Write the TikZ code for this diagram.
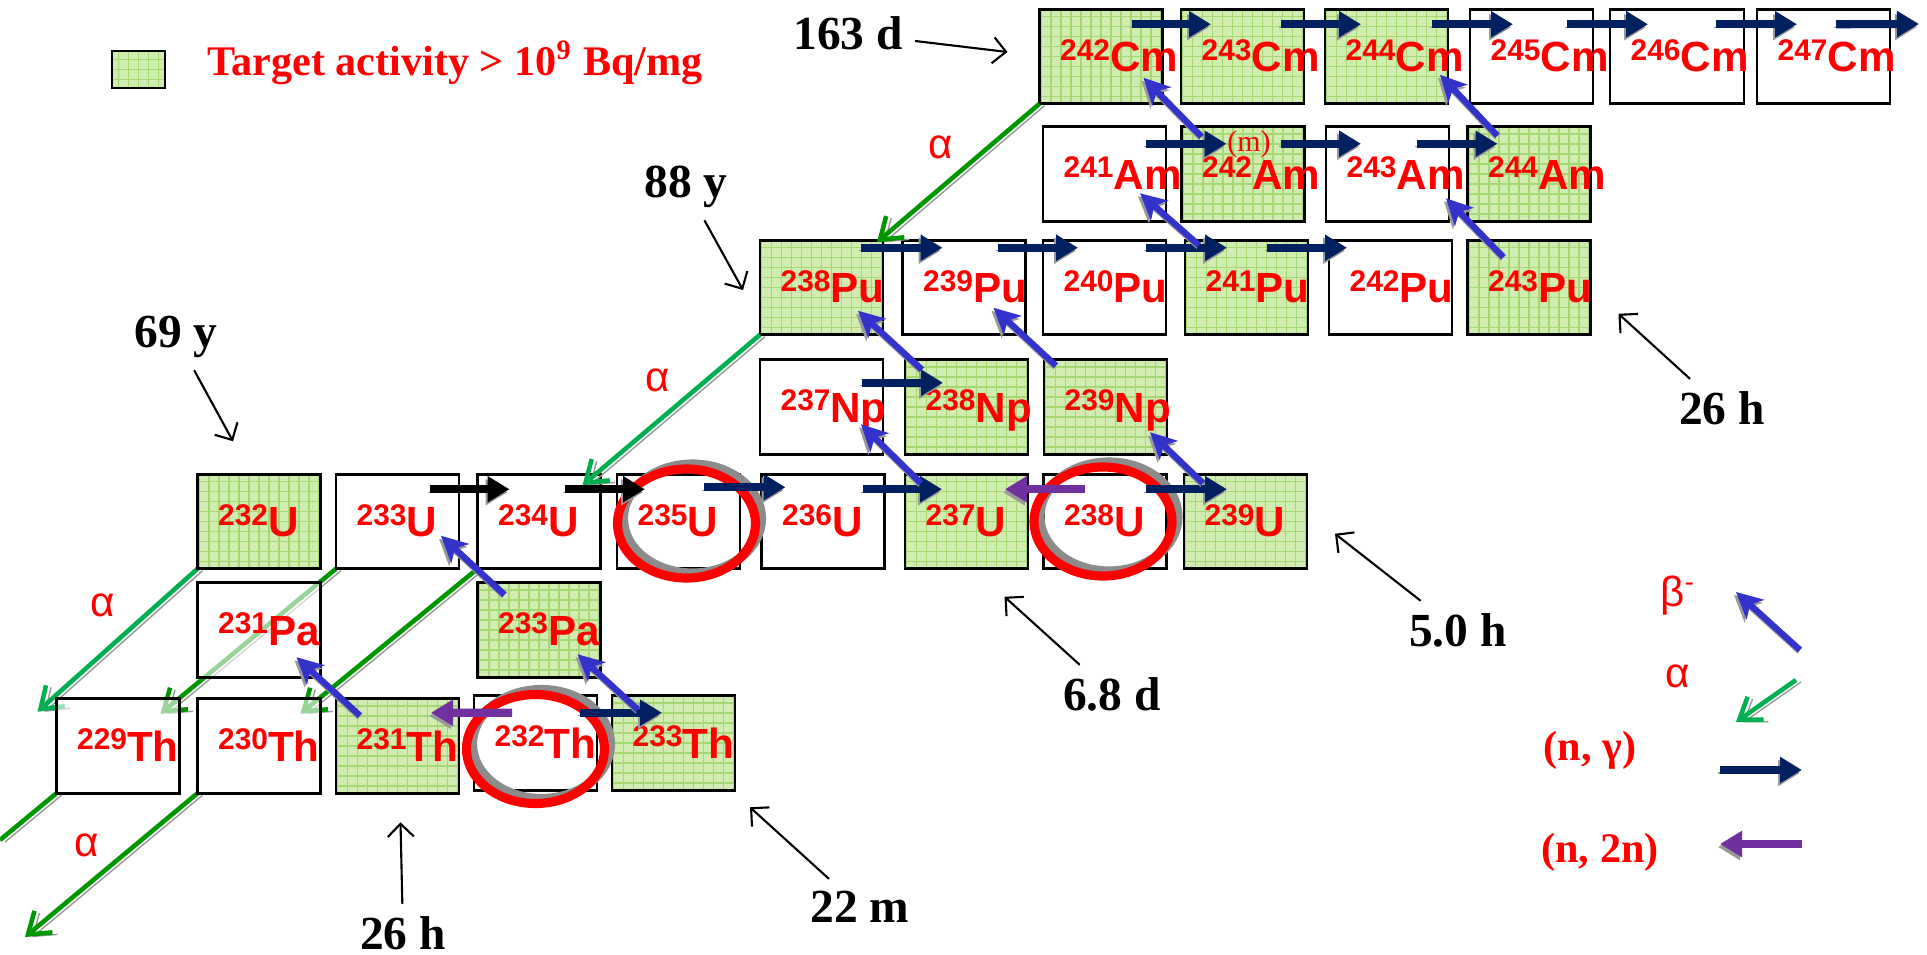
\documentclass[tikz,border=0pt]{standalone}
\usepackage{fontspec}
\setmainfont{Liberation Serif}
\setsansfont{Liberation Sans}
\usetikzlibrary{arrows.meta,calc,backgrounds}
\definecolor{navy}{RGB}{0,32,96}
\definecolor{betablue}{RGB}{51,51,204}
\definecolor{grape}{RGB}{112,48,160}
\definecolor{leaf}{RGB}{0,176,80}
\definecolor{moss}{RGB}{0,150,0}
\definecolor{mint}{RGB}{208,236,176}
\definecolor{mintline}{RGB}{165,215,115}
\definecolor{scarlet}{RGB}{255,0,0}
\newcommand\mass[1]{\raisebox{3.3pt}{\fontsize{8.5}{8.5}\selectfont #1}}
\tikzset{
  box/.style={draw=black,line width=0.8pt,minimum width=1.23cm,minimum height=0.945cm,
    inner sep=0pt,outer sep=0pt},
  wbox/.style={box,fill=white,fill opacity=0.6},
  gbox/.style={box,fill=mint,path picture={
    \draw[mintline,line width=0.4pt] (path picture bounding box.south west)
      grid[step=0.1] (path picture bounding box.north east);}},
  nuc/.style 2 args={label={[lbl]west:\mass{#1}#2}},
  lbl/.style={anchor=base west,xshift=2.0mm,yshift=-1.52mm,inner sep=0pt,text=scarlet,
    text opacity=1,font=\sffamily\bfseries\fontsize{12}{12}\selectfont},
  shad/.style={preaction={draw=black!40,transform canvas={shift={#1}}}},
  shad/.default={(-0.02,-0.03)},
  ngam/.style={draw=#1,line width=2.3pt,-{Triangle[length=2.2mm,width=2.5mm]},shad},
  ngam/.default=navy,
  bdecay/.style={draw=betablue,line width=1.8pt,-{Stealth[length=2.6mm,width=2.6mm,inset=0.7mm]},shad},
  adecay/.style={draw=#1,line width=1.3pt,-{Straight Barb[length=2mm,width=2.8mm]},shad={(0.05,-0.02)}},
  adecay/.default=moss,
  hoop/.style={draw=scarlet,line width=2.6pt},
  hoopshadow/.style={draw=black!45,line width=2.6pt},
  halflife/.style={font=\bfseries\fontsize{13.5}{14}\selectfont},
  pointer/.style={draw=black,line width=0.6pt,-{Straight Barb[length=1.3mm,width=2.6mm]}},
  tag/.style={text=scarlet,font=\sffamily\fontsize{12}{12}\selectfont},
  keytag/.style={text=scarlet,font=\bfseries\fontsize{12}{13}\selectfont},
}
\begin{document}
\begin{tikzpicture}
  \useasboundingbox (0,-9.55) rectangle (19.27,0);
  % key
  \node[gbox,minimum width=0.53cm,minimum height=0.37cm] (key) at (1.385,-0.695) {};
  \node[keytag,anchor=base west] (keytext) at (1.95,-0.75) {Target activity > 10\textsuperscript{9} Bq/mg};
  % Cm
  \node[gbox,nuc={242}{Cm}] (Cm242) at (11.01,-0.565) {};
  \node[gbox,nuc={243}{Cm}] (Cm243) at (12.425,-0.565) {};
  \node[gbox,nuc={244}{Cm}] (Cm244) at (13.865,-0.565) {};
  \node[wbox,nuc={245}{Cm}] (Cm245) at (15.315,-0.565) {};
  \node[wbox,nuc={246}{Cm},minimum width=1.34cm] (Cm246) at (16.77,-0.565) {};
  \node[wbox,nuc={247}{Cm},minimum width=1.33cm] (Cm247) at (18.235,-0.565) {};
  % Am
  \node[wbox,nuc={241}{Am}] (Am241) at (11.045,-1.74) {};
  \node[gbox,nuc={242}{Am}] (Am242) at (12.43,-1.74) {};
  \node[wbox,nuc={243}{Am}] (Am243) at (13.875,-1.74) {};
  \node[gbox,nuc={244}{Am}] (Am244) at (15.29,-1.74) {};
  % Pu
  \node[gbox,nuc={238}{Pu}] (Pu238) at (8.215,-2.875) {};
  \node[wbox,nuc={239}{Pu}] (Pu239) at (9.64,-2.875) {};
  \node[wbox,nuc={240}{Pu}] (Pu240) at (11.045,-2.875) {};
  \node[gbox,nuc={241}{Pu}] (Pu241) at (12.465,-2.875) {};
  \node[wbox,nuc={242}{Pu}] (Pu242) at (13.905,-2.875) {};
  \node[gbox,nuc={243}{Pu}] (Pu243) at (15.29,-2.875) {};
  % Np
  \node[wbox,nuc={237}{Np}] (Np237) at (8.215,-4.07) {};
  \node[gbox,nuc={238}{Np}] (Np238) at (9.665,-4.07) {};
  \node[gbox,nuc={239}{Np}] (Np239) at (11.055,-4.07) {};
  % U
  \node[gbox,nuc={232}{U}] (U232) at (2.59,-5.215) {};
  \node[wbox,nuc={233}{U}] (U233) at (3.975,-5.215) {};
  \node[wbox,nuc={234}{U}] (U234) at (5.39,-5.215) {};
  \node[wbox,nuc={235}{U}] (U235) at (6.785,-5.215) {};
  \node[wbox,nuc={236}{U}] (U236) at (8.23,-5.215) {};
  \node[gbox,nuc={237}{U}] (U237) at (9.665,-5.215) {};
  \node[wbox,nuc={238}{U}] (U238) at (11.05,-5.215) {};
  \node[gbox,nuc={239}{U}] (U239) at (12.455,-5.215) {};
  % Pa
  \node[wbox,nuc={231}{Pa}] (Pa231) at (2.59,-6.30) {};
  \node[gbox,nuc={233}{Pa}] (Pa233) at (5.39,-6.30) {};
  % Th
  \node[wbox,nuc={229}{Th}] (Th229) at (1.18,-7.46) {};
  \node[wbox,nuc={230}{Th}] (Th230) at (2.59,-7.46) {};
  \node[gbox,nuc={231}{Th}] (Th231) at (3.975,-7.46) {};
  \node[wbox,nuc={232}{Th}] (Th232) at (5.355,-7.43) {};
  \node[gbox,nuc={233}{Th}] (Th233) at (6.735,-7.43) {};
  \node[text=scarlet,font=\fontsize{8.5}{9}\selectfont,inner sep=0pt] (meta) at ($(Am242.north)+(0.06,-0.18)$) {(m)};

  % alpha lines under the boxes
  \coordinate (thout) at (0,-8.40);
  \coordinate (raout) at (0.25,-9.37);
  \begin{pgfonlayer}{background}
    \draw[adecay=leaf] (U232.south west) -- ($(Th229.north west)+(-0.19,-0.13)$);
    \draw[adecay] (U233.south west) -- ($(Th229.north east)+(-0.19,-0.15)$);
    \draw[adecay] (U234.south west) -- ($(Th230.north east)+(-0.2,-0.15)$);
    \draw[adecay,-] (Th229.south west) -- (thout);
    \draw[adecay] (Th230.south west) -- (raout);
  \end{pgfonlayer}
  \draw[adecay] (Cm242.south west) -- ($(Pu238.north east)+(-0.06,-0.02)$);
  \draw[adecay=leaf] (Pu238.south west) -- ($(U234.north east)+(-0.18,-0.11)$);
  \node[tag] (a1) at (9.41,-1.47) {α};
  \node[tag] (a2) at (6.58,-3.80) {α};
  \node[tag] (a3) at (1.03,-6.05) {α};
  \node[tag] (a4) at (0.87,-8.45) {α};

  % targets
  \draw[hoopshadow] ($(U235)+(0.14,0.03)$) ellipse [x radius=0.69cm,y radius=0.545cm];
  \draw[hoop] ($(U235)+(0.08,-0.02)$) ellipse [x radius=0.69cm,y radius=0.545cm];
  \draw[hoopshadow] ($(U238)+(0.04,0.05)$) ellipse [x radius=0.69cm,y radius=0.545cm];
  \draw[hoop] ($(U238)+(-0.02,0)$) ellipse [x radius=0.69cm,y radius=0.545cm];
  \draw[hoopshadow] ($(Th232)+(0.06,-0.01)$) ellipse [x radius=0.69cm,y radius=0.545cm];
  \draw[hoop] ($(Th232)+(0,-0.06)$) ellipse [x radius=0.69cm,y radius=0.545cm];

  % (n,gamma)
  \coordinate (cmout) at (19.19,-0.24);
  \draw[ngam] ($(Cm242.north east)+(-0.31,-0.15)$) -- ($(Cm243.north west)+(0.30,-0.15)$);
  \draw[ngam] ($(Cm243.north east)+(-0.23,-0.15)$) -- ($(Cm244.north west)+(0.36,-0.15)$);
  \draw[ngam] ($(Cm244.north east)+(-0.16,-0.15)$) -- ($(Cm245.north west)+(0.43,-0.15)$);
  \draw[ngam] ($(Cm245.north east)+(-0.26,-0.15)$) -- ($(Cm246.north west)+(0.38,-0.15)$);
  \draw[ngam] ($(Cm246.north east)+(-0.28,-0.15)$) -- ($(Cm247.north west)+(0.40,-0.15)$);
  \draw[ngam] ($(Cm247.north east)+(-0.54,-0.15)$) -- (cmout);
  \draw[ngam] ($(Am241.north east)+(-0.20,-0.17)$) -- ($(Am242.north west)+(0.45,-0.17)$);
  \draw[ngam] ($(Am242.north east)+(-0.24,-0.17)$) -- ($(Am243.north west)+(0.35,-0.17)$);
  \draw[ngam] ($(Am243.north east)+(-0.32,-0.17)$) -- ($(Am244.north west)+(0.30,-0.17)$);
  \draw[ngam] ($(Pu238.north east)+(-0.22,-0.075)$) -- ($(Pu239.north west)+(0.40,-0.075)$);
  \draw[ngam] ($(Pu239.north east)+(-0.28,-0.075)$) -- ($(Pu240.north west)+(0.35,-0.075)$);
  \draw[ngam] ($(Pu240.north east)+(-0.20,-0.075)$) -- ($(Pu241.north west)+(0.42,-0.075)$);
  \draw[ngam] ($(Pu241.north east)+(-0.41,-0.075)$) -- ($(Pu242.north west)+(0.18,-0.075)$);
  \draw[ngam] ($(Np237.north east)+(-0.21,-0.23)$) -- ($(Np238.north west)+(0.38,-0.23)$);
  \draw[ngam=black] ($(U233.north east)+(-0.29,-0.15)$) -- ($(U234.north west)+(0.32,-0.15)$);
  \draw[ngam=black] ($(U234.north east)+(-0.36,-0.15)$) -- ($(U235.north west)+(0.28,-0.15)$);
  \draw[ngam] ($(U235.north east)+(-0.36,-0.13)$) -- ($(U236.north west)+(0.24,-0.13)$);
  \draw[ngam] ($(U236.north east)+(-0.22,-0.15)$) -- ($(U237.north west)+(0.37,-0.15)$);
  \draw[ngam] ($(U238.north east)+(-0.21,-0.15)$) -- ($(U239.north west)+(0.43,-0.15)$);
  \draw[ngam] ($(Th232.north east)+(-0.17,-0.17)$) -- ($(Th233.north west)+(0.50,-0.17)$);
  % (n,2n)
  \draw[ngam=grape] ($(U238.north west)+(0.41,-0.15)$) -- ($(U237.north east)+(-0.23,-0.15)$);
  \draw[ngam=grape] ($(Th232.north west)+(0.38,-0.17)$) -- ($(Th231.north east)+(-0.28,-0.14)$);
  % beta-
  \draw[bdecay] ($(Th231.north west)+(0.24,-0.17)$) -- ($(Pa231.south east)+(-0.24,0.20)$);
  \draw[bdecay] ($(Th233.north west)+(0.26,-0.14)$) -- ($(Pa233.south east)+(-0.23,0.23)$);
  \draw[bdecay] ($(Pa233.north west)+(0.27,-0.12)$) -- ($(U233.south east)+(-0.18,0.33)$);
  \draw[bdecay] ($(U237.north west)+(0.16,-0.09)$) -- ($(Np237.south east)+(-0.22,0.30)$);
  \draw[bdecay] ($(U239.north west)+(0.19,-0.09)$) -- ($(Np239.south east)+(-0.17,0.22)$);
  \draw[bdecay] ($(Np238.north west)+(0.17,-0.10)$) -- ($(Pu238.south east)+(-0.25,0.24)$);
  \draw[bdecay] ($(Np239.north west)+(0.12,-0.06)$) -- ($(Pu239.south east)+(-0.32,0.27)$);
  \draw[bdecay] ($(Pu241.north west)+(0.14,-0.05)$) -- ($(Am241.south east)+(-0.26,0.28)$);
  \draw[bdecay] ($(Pu243.north west)+(0.36,-0.17)$) -- ($(Am243.south east)+(-0.03,0.23)$);
  \draw[bdecay] ($(Am242.north west)+(0.20,-0.10)$) -- ($(Cm242.south east)+(-0.19,0.26)$);
  \draw[bdecay] ($(Am244.north west)+(0.30,-0.09)$) -- ($(Cm244.south east)+(-0.08,0.29)$);

  % half-lives
  \node[halflife] (d163) at (8.48,-0.33) {163 d};
  \node[halflife] (y88) at (6.86,-1.87) {88 y};
  \node[halflife] (y69) at (1.76,-3.37) {69 y};
  \node[halflife] (h26a) at (17.22,-4.08) {26 h};
  \node[halflife] (h50) at (14.58,-6.30) {5.0 h};
  \node[halflife] (d68) at (11.12,-6.94) {6.8 d};
  \node[halflife] (h26b) at (4.03,-9.33) {26 h};
  \node[halflife] (m22) at (8.60,-9.07) {22 m};
  \draw[pointer] (d163) -- ($(Cm242.west)+(-0.32,0.045)$);
  \draw[pointer] (y88) -- ($(Pu238.west)+(-0.17,-0.025)$);
  \draw[pointer] (y69) -- ($(U232.north)+(-0.26,0.33)$);
  \draw[pointer] (h26a) -- ($(Pu243.south east)+(0.28,0.21)$);
  \draw[pointer] (h50) -- ($(U239.south east)+(0.28,0.35)$);
  \draw[pointer] (d68) -- ($(U237.south)+(0.38,-0.28)$);
  \draw[pointer] (h26b) -- ($(Th231.south)+(0.03,-0.29)$);
  \draw[pointer] (m22) -- ($(Th233.south east)+(0.15,-0.17)$);

  % legend
  \node[tag] (kbeta) at (16.78,-5.96) {β\textsuperscript{-}};
  \node[tag] (kalpha) at (16.78,-6.76) {α};
  \node[keytag] (kngam) at (15.90,-7.50) {(n, γ)};
  \node[keytag] (kn2n) at (16.00,-8.52) {(n, 2n)};
  \draw[bdecay] ($(kbeta)+(1.22,-0.54)$) -- ($(kbeta)+(0.58,0.04)$);
  \draw[adecay=leaf] ($(kalpha)+(1.18,-0.04)$) -- ($(kalpha)+(0.58,-0.46)$);
  \draw[ngam] ($(kngam)+(1.30,-0.20)$) -- ($(kngam)+(2.12,-0.20)$);
  \draw[ngam=grape] ($(kn2n)+(2.02,0.08)$) -- ($(kn2n)+(1.20,0.08)$);
\end{tikzpicture}
\end{document}
